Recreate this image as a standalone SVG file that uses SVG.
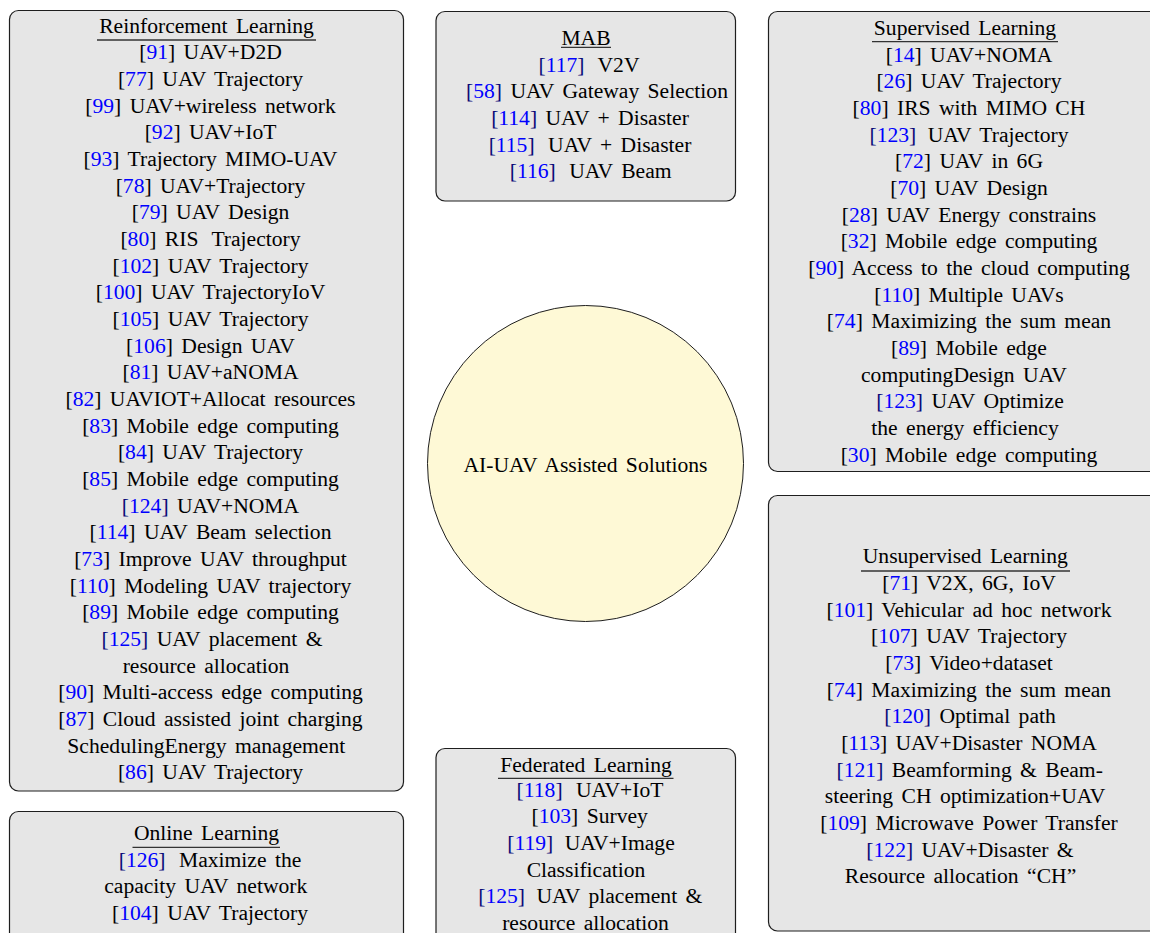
<svg xmlns="http://www.w3.org/2000/svg" width="1150" height="933" viewBox="0 0 1150 933">
<style>
.box{fill:#e6e6e6;stroke:#1e1e1e;stroke-width:1.2}
.hub{fill:#fef9d6;stroke:#1e1e1e;stroke-width:1}
text{font-family:"Liberation Serif","Times New Roman",serif;font-size:21.6px;fill:#000;text-anchor:middle;word-spacing:3px}
.u{stroke:#333;stroke-width:1.3}
.c{fill:#0000ff}
.n{fill:#0a0a78}
</style>
<rect width="1150" height="933" fill="#fff"/>
<g id="connectors"/>
<g id="hub">
<circle class="hub" cx="585.5" cy="463.5" r="158"/>
<text x="585.5" y="471.5">AI-UAV Assisted Solutions</text>
</g>
<g id="reinforcement-learning">
<rect class="box" x="9.5" y="10.5" width="394" height="780.5" rx="9"/>
<text x="206.5" y="32.7">Reinforcement Learning</text>
<line class="u" x1="97" y1="40" x2="316" y2="40"/>
<text x="210.5" y="59.3">[<tspan class="c">91</tspan>] UAV+D2D</text>
<text x="210.5" y="86">[<tspan class="c">77</tspan>] UAV Trajectory</text>
<text x="210.5" y="112.6">[<tspan class="c">99</tspan>] UAV+wireless network</text>
<text x="210.5" y="139.3">[<tspan class="c">92</tspan>] UAV+IoT</text>
<text x="210.5" y="166">[<tspan class="c">93</tspan>] Trajectory MIMO-UAV</text>
<text x="210.5" y="192.6">[<tspan class="c">78</tspan>] UAV+Trajectory</text>
<text x="210.5" y="219.3">[<tspan class="c">79</tspan>] UAV Design</text>
<text x="210.5" y="246">[<tspan class="c">80</tspan>] RIS <tspan dx="5">Trajectory</tspan></text>
<text x="210.5" y="272.6">[<tspan class="c">102</tspan>] UAV Trajectory</text>
<text x="210.5" y="299.3">[<tspan class="c">100</tspan>] UAV TrajectoryIoV</text>
<text x="210.5" y="326">[<tspan class="c">105</tspan>] UAV Trajectory</text>
<text x="210.5" y="352.6">[<tspan class="c">106</tspan>] Design UAV</text>
<text x="210.5" y="379.3">[<tspan class="c">81</tspan>] UAV+aNOMA</text>
<text x="210.5" y="406">[<tspan class="c">82</tspan>] UAVIOT+Allocat resources</text>
<text x="210.5" y="432.6">[<tspan class="c">83</tspan>] Mobile edge computing</text>
<text x="210.5" y="459.3">[<tspan class="c">84</tspan>] UAV Trajectory</text>
<text x="210.5" y="486">[<tspan class="c">85</tspan>] Mobile edge computing</text>
<text x="210.5" y="512.6"><tspan class="n">[</tspan><tspan class="c">124</tspan><tspan class="n">]</tspan> UAV+NOMA</text>
<text x="210.5" y="539.3">[<tspan class="c">114</tspan>] UAV Beam selection</text>
<text x="210.5" y="566">[<tspan class="c">73</tspan>] Improve UAV throughput</text>
<text x="210.5" y="592.6">[<tspan class="c">110</tspan>] Modeling UAV trajectory</text>
<text x="210.5" y="619.3">[<tspan class="c">89</tspan>] Mobile edge computing</text>
<text x="212" y="646"><tspan class="n">[</tspan><tspan class="c">125</tspan><tspan class="n">]</tspan> UAV placement &amp;</text>
<text x="206" y="672.6">resource allocation</text>
<text x="210.5" y="699.3">[<tspan class="c">90</tspan>] Multi-access edge computing</text>
<text x="210.5" y="726">[<tspan class="c">87</tspan>] Cloud assisted joint charging</text>
<text x="206.3" y="752.6">SchedulingEnergy management</text>
<text x="210.5" y="779.3">[<tspan class="c">86</tspan>] UAV Trajectory</text>
</g>
<g id="online-learning">
<rect class="box" x="9.5" y="811.5" width="394" height="160" rx="9"/>
<text x="206.5" y="840">Online Learning</text>
<line class="u" x1="132.5" y1="847.3" x2="280" y2="847.3"/>
<text x="210" y="866.7"><tspan class="n">[</tspan><tspan class="c">126</tspan><tspan class="n">]</tspan> <tspan dx="5">Maximize the</tspan></text>
<text x="205.8" y="893.3">capacity UAV network</text>
<text x="210" y="920">[<tspan class="c">104</tspan>] UAV Trajectory</text>
</g>
<g id="mab">
<rect class="box" x="436" y="11.5" width="299.5" height="189.5" rx="9"/>
<text x="586" y="45">MAB</text>
<line class="u" x1="561" y1="47.3" x2="611" y2="47.3"/>
<text x="589" y="71.7"><tspan class="n">[</tspan><tspan class="c">117</tspan><tspan class="n">]</tspan> <tspan dx="5">V2V</tspan></text>
<text x="597" y="98.3"><tspan class="n">[</tspan><tspan class="c">58</tspan><tspan class="n">]</tspan> UAV Gateway Selection</text>
<text x="590" y="125"><tspan class="n">[</tspan><tspan class="c">114</tspan><tspan class="n">]</tspan> UAV + Disaster</text>
<text x="590" y="151.6"><tspan class="n">[</tspan><tspan class="c">115</tspan><tspan class="n">]</tspan> <tspan dx="5">UAV + Disaster</tspan></text>
<text x="590.7" y="178.3"><tspan class="n">[</tspan><tspan class="c">116</tspan><tspan class="n">]</tspan> <tspan dx="5">UAV Beam</tspan></text>
</g>
<g id="federated-learning">
<rect class="box" x="436" y="748.5" width="299.5" height="220" rx="9"/>
<text x="586" y="771.7">Federated Learning</text>
<line class="u" x1="498" y1="778.3" x2="673.5" y2="778.3"/>
<text x="590" y="796.7"><tspan class="n">[</tspan><tspan class="c">118</tspan><tspan class="n">]</tspan> <tspan dx="5">UAV+IoT</tspan></text>
<text x="589.7" y="823.3">[<tspan class="c">103</tspan>] Survey</text>
<text x="591" y="850"><tspan class="n">[</tspan><tspan class="c">119</tspan><tspan class="n">]</tspan> <tspan dx="3">UAV+Image</tspan></text>
<text x="586" y="876.7">Classification</text>
<text x="590.3" y="903.3"><tspan class="n">[</tspan><tspan class="c">125</tspan><tspan class="n">]</tspan> <tspan dx="3">UAV placement &amp;</tspan></text>
<text x="585.5" y="930">resource allocation</text>
</g>
<g id="supervised-learning">
<rect class="box" x="768.5" y="11.5" width="400" height="460" rx="9"/>
<text x="965" y="35">Supervised Learning</text>
<line class="u" x1="872" y1="41.7" x2="1058" y2="41.7"/>
<text x="969" y="61.7">[<tspan class="c">14</tspan>] UAV+NOMA</text>
<text x="969" y="88.3">[<tspan class="c">26</tspan>] UAV Trajectory</text>
<text x="969" y="115">[<tspan class="c">80</tspan>] IRS with MIMO CH</text>
<text x="969" y="141.7"><tspan class="n">[</tspan><tspan class="c">123</tspan><tspan class="n">]</tspan> <tspan dx="3">UAV Trajectory</tspan></text>
<text x="969" y="168.3">[<tspan class="c">72</tspan>] UAV in 6G</text>
<text x="969" y="195">[<tspan class="c">70</tspan>] UAV Design</text>
<text x="969" y="221.7">[<tspan class="c">28</tspan>] UAV Energy constrains</text>
<text x="969" y="248.3">[<tspan class="c">32</tspan>] Mobile edge computing</text>
<text x="969" y="275">[<tspan class="c">90</tspan>] Access to the cloud computing</text>
<text x="969" y="301.7">[<tspan class="c">110</tspan>] Multiple UAVs</text>
<text x="969" y="328.3">[<tspan class="c">74</tspan>] Maximizing the sum mean</text>
<text x="969" y="355">[<tspan class="c">89</tspan>] Mobile edge</text>
<text x="964" y="381.7">computingDesign UAV</text>
<text x="970" y="408.3"><tspan class="n">[</tspan><tspan class="c">123</tspan><tspan class="n">]</tspan> UAV Optimize</text>
<text x="965" y="435">the energy efficiency</text>
<text x="969" y="461.7">[<tspan class="c">30</tspan>] Mobile edge computing</text>
</g>
<g id="unsupervised-learning">
<rect class="box" x="768.5" y="495.5" width="400" height="435.5" rx="9"/>
<text x="965.3" y="563.3">Unsupervised Learning</text>
<line class="u" x1="861" y1="571" x2="1070" y2="571"/>
<text x="969" y="590">[<tspan class="c">71</tspan>] V2X, 6G, IoV</text>
<text x="969" y="616.7">[<tspan class="c">101</tspan>] Vehicular ad hoc network</text>
<text x="969" y="643.3">[<tspan class="c">107</tspan>] UAV Trajectory</text>
<text x="969" y="670">[<tspan class="c">73</tspan>] Video+dataset</text>
<text x="969" y="696.7">[<tspan class="c">74</tspan>] Maximizing the sum mean</text>
<text x="970" y="723.3"><tspan class="n">[</tspan><tspan class="c">120</tspan><tspan class="n">]</tspan> Optimal path</text>
<text x="969" y="750">[<tspan class="c">113</tspan>] UAV+Disaster NOMA</text>
<text x="969.7" y="776.7"><tspan class="n">[</tspan><tspan class="c">121</tspan><tspan class="n">]</tspan> Beamforming &amp; Beam-</text>
<text x="965" y="803.3">steering CH optimization+UAV</text>
<text x="969" y="830">[<tspan class="c">109</tspan>] Microwave Power Transfer</text>
<text x="970" y="856.7"><tspan class="n">[</tspan><tspan class="c">122</tspan><tspan class="n">]</tspan> UAV+Disaster &amp;</text>
<text x="960.5" y="883.3">Resource allocation “CH”</text>
</g>
</svg>
